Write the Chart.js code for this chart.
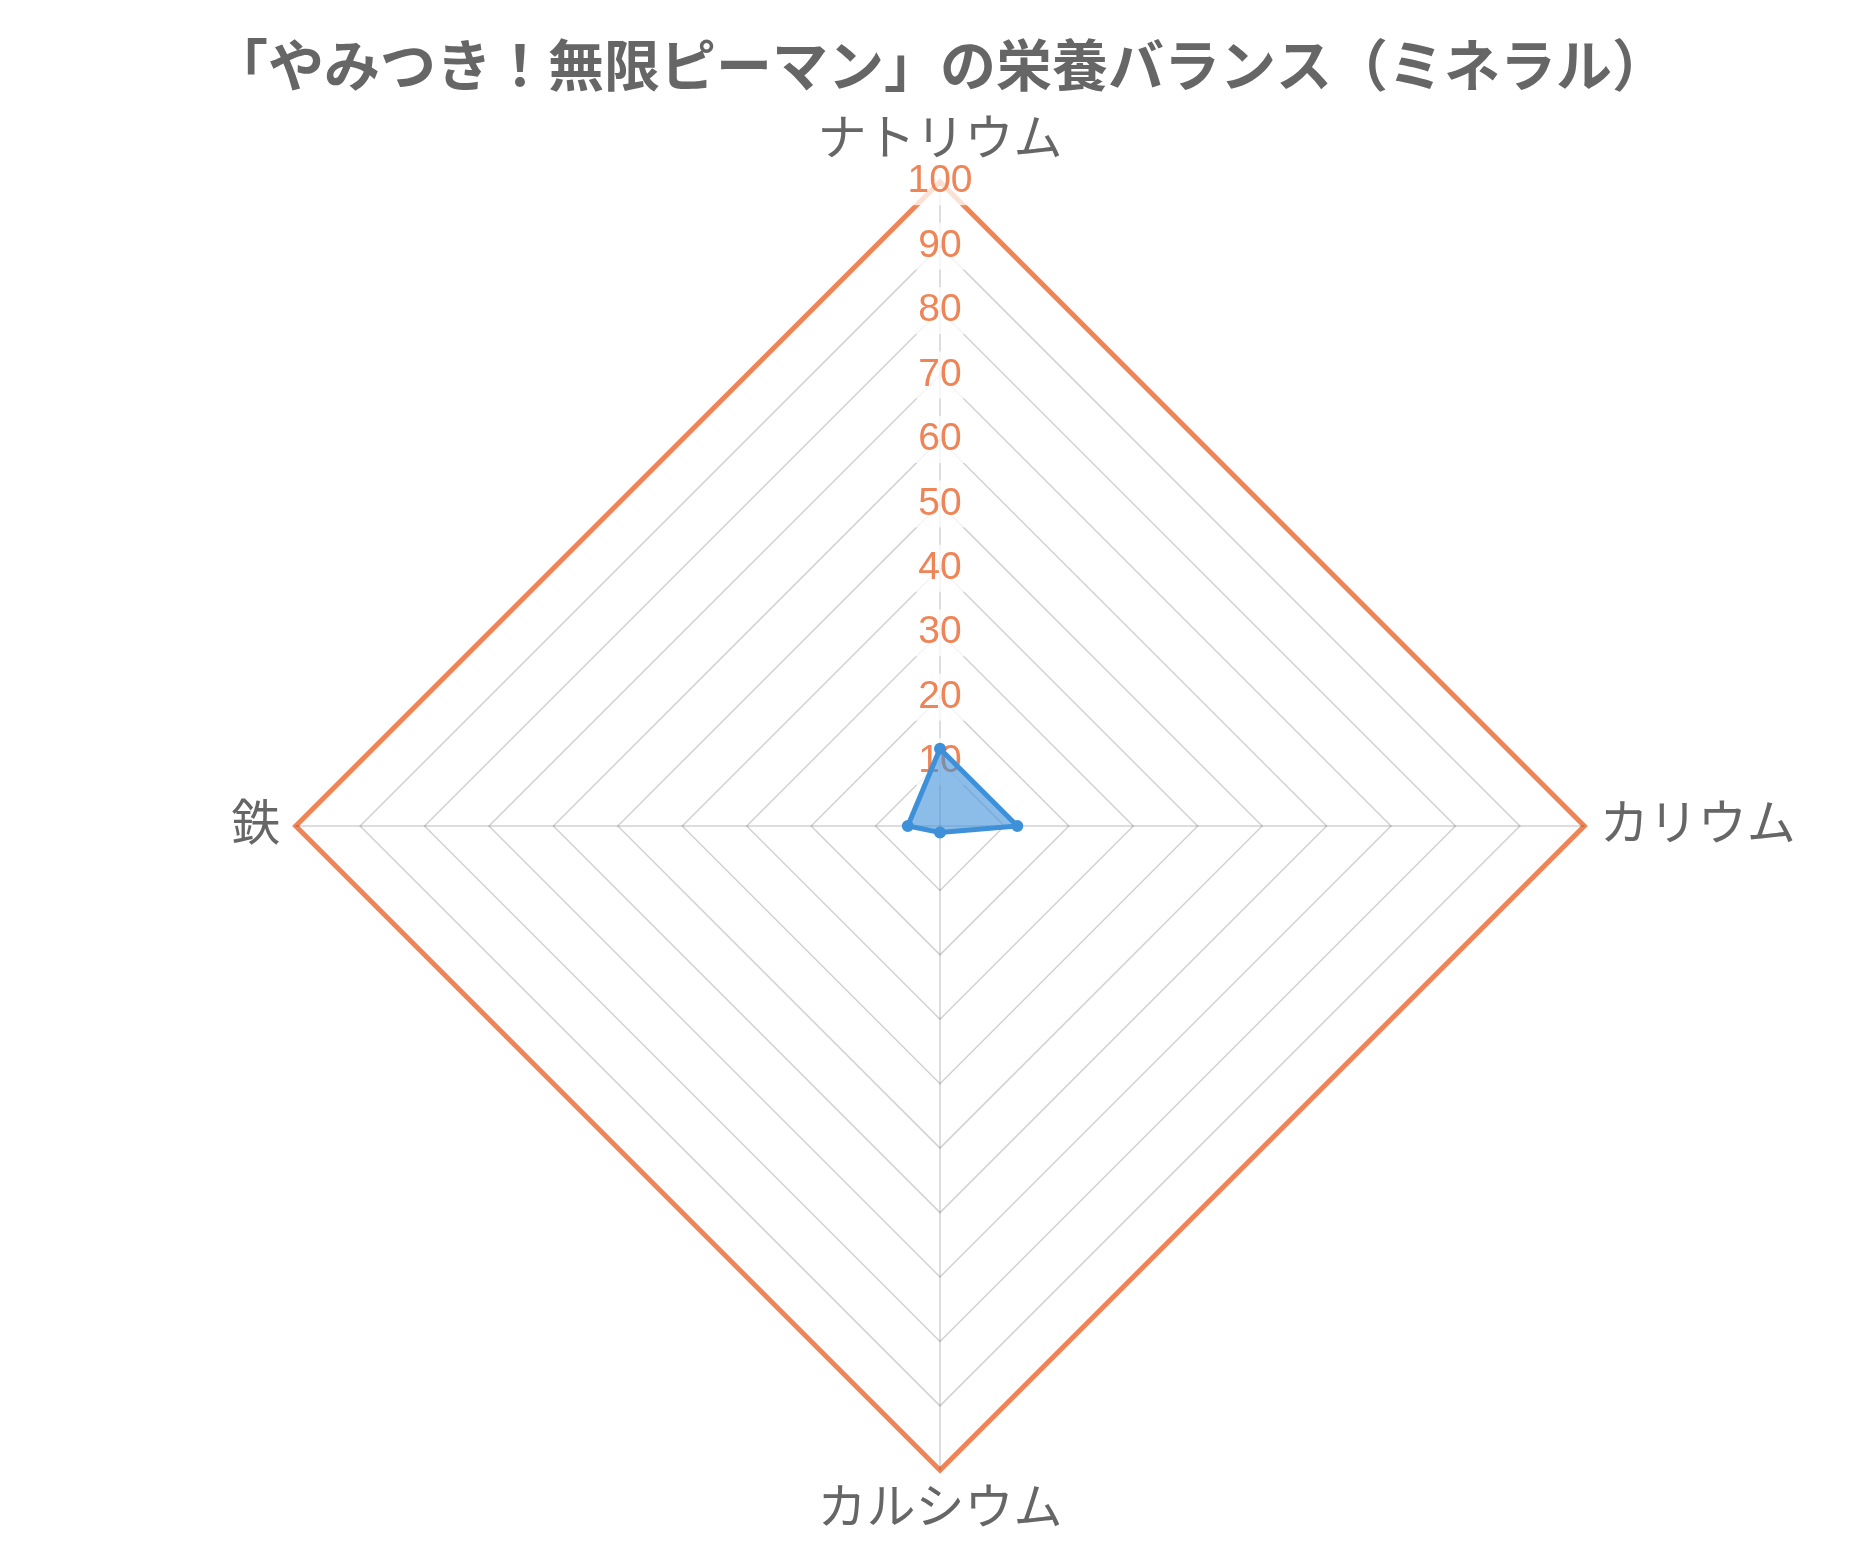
<!DOCTYPE html>
<html>
<head>
<meta charset="utf-8">
<script src="https://cdn.jsdelivr.net/npm/chart.js@4"></script>
<style>
html,body{margin:0;padding:0;background:#fff;}
#wrap{width:1870px;height:1550px;}
</style>
</head>
<body>
<div id="wrap"><canvas id="c" width="1870" height="1550"></canvas></div>
<script>
const titleText = '「やみつき！無限ピーマン」の栄養バランス（ミネラル）';
const categories = ['ナトリウム', 'カリウム', 'カルシウム', '鉄'];
const seriesValues = [12, 12, 1, 5];
const tickMin = 0;
const tickMax = 100;
const tickStep = 10;

const FONT = "'Helvetica Neue', Helvetica, Arial, 'Noto Sans CJK JP', sans-serif";
const ORANGE = 'rgb(239,132,86)';
const BLUE = 'rgb(62,145,216)';

new Chart(document.getElementById('c'), {
  type: 'radar',
  data: {
    labels: categories,
    datasets: [{
      label: 'ミネラル',
      data: seriesValues,
      borderColor: BLUE,
      backgroundColor: 'rgba(62,145,216,0.6)',
      borderWidth: 5,
      pointRadius: 5,
      pointBackgroundColor: BLUE,
      pointBorderColor: BLUE,
      pointBorderWidth: 2
    }]
  },
  options: {
    responsive: false,
    animation: false,
    devicePixelRatio: 1,
    layout: { padding: { top: 0, bottom: 14, left: 10, right: 0 } },
    plugins: {
      legend: { display: false },
      tooltip: { enabled: false },
      title: {
        display: true,
        text: titleText,
        color: '#666',
        font: { family: FONT, size: 56, weight: 'bold' },
        padding: { top: 37, bottom: 13 }
      }
    },
    scales: {
      r: {
        min: tickMin,
        max: tickMax,
        ticks: {
          stepSize: tickStep,
          color: ORANGE,
          font: { family: FONT, size: 39 },
          backdropPadding: 4
        },
        grid: {
          color: ctx => ctx.tick && ctx.tick.value === tickMax ? ORANGE : 'rgba(0,0,0,0.18)',
          lineWidth: ctx => ctx.tick && ctx.tick.value === tickMax ? 5 : 1.5
        },
        angleLines: { color: 'rgba(0,0,0,0.18)', lineWidth: 1.5 },
        pointLabels: {
          color: '#666',
          font: { family: FONT, size: 49, lineHeight: 1 },
          padding: -8
        }
      }
    }
  }
});
</script>
</body>
</html>
